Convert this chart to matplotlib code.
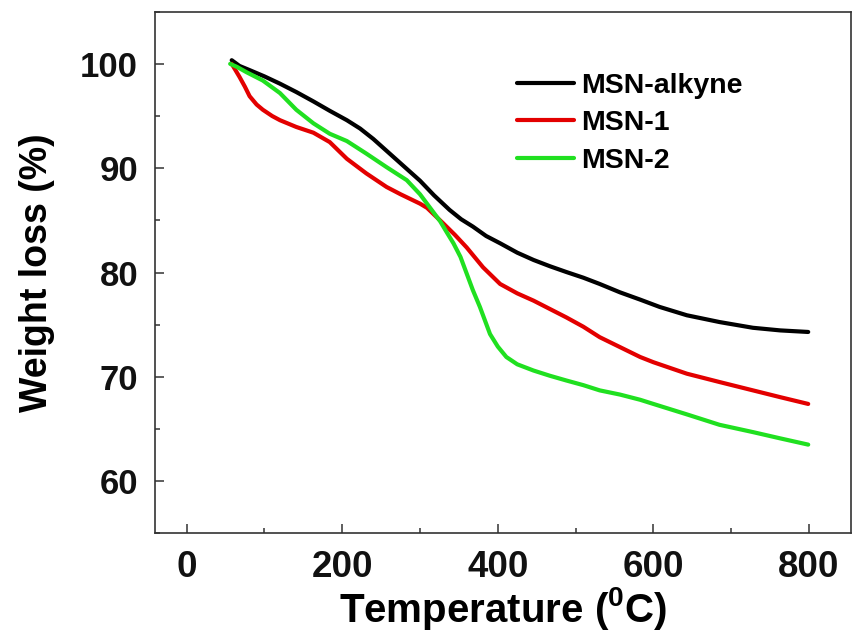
import matplotlib
matplotlib.use("Agg")
import matplotlib.pyplot as plt
from matplotlib.ticker import MultipleLocator

# ---- data ----
T_black = [58, 68, 81, 100, 120, 141, 163, 184, 206, 223, 240, 255, 270, 285, 300, 318, 338, 353, 368, 385,
           403, 425, 446, 467, 488, 510, 531, 557, 583, 608, 643, 685, 728, 763, 799]
W_black = [100.35, 99.8, 99.4, 98.8, 98.1, 97.3, 96.4, 95.5, 94.6, 93.8, 92.8, 91.8, 90.8, 89.8, 88.8, 87.4, 86.0, 85.1, 84.4, 83.5,
           82.8, 81.9, 81.2, 80.6, 80.05, 79.5, 78.9, 78.1, 77.4, 76.7, 75.9, 75.25, 74.7, 74.45, 74.3]

T_red = [58, 62, 68, 75, 81, 90, 98, 110, 120, 141, 163, 184, 206, 231, 257, 275, 300, 309, 330, 345, 360, 381,
         403, 425, 446, 467, 488, 510, 531, 557, 583, 600, 643, 685, 728, 763, 799]
W_red = [100.0, 99.5, 98.75, 97.8, 96.9, 96.1, 95.6, 95.0, 94.6, 93.95, 93.4, 92.5, 90.9, 89.5, 88.2, 87.5, 86.6, 86.2, 84.7, 83.6, 82.4, 80.5,
         78.9, 78.0, 77.3, 76.5, 75.7, 74.8, 73.8, 72.85, 71.9, 71.4, 70.3, 69.5, 68.7, 68.05, 67.4]

T_green = [56, 65, 77, 98, 120, 141, 163, 184, 206, 231, 257, 283, 300, 313, 326, 334, 343, 352, 360, 368, 377,
           384, 390, 400, 411, 425, 446, 467, 488, 510, 531, 557, 583, 600, 643, 685, 728, 763, 799]
W_green = [100.0, 99.7, 99.2, 98.4, 97.2, 95.6, 94.3, 93.3, 92.6, 91.4, 90.1, 88.85, 87.5, 86.2, 84.9, 83.9, 82.8, 81.5, 79.9, 78.3, 76.7,
           75.3, 74.1, 72.9, 71.9, 71.2, 70.6, 70.1, 69.65, 69.2, 68.7, 68.3, 67.8, 67.4, 66.4, 65.4, 64.7, 64.1, 63.5]

series_labels = ["MSN-alkyne", "MSN-1", "MSN-2"]
series_colors = ["#000000", "#e30000", "#20e020"]
x_ticks = [0, 200, 400, 600, 800]
y_ticks = [60, 70, 80, 90, 100]

plt.rcParams['font.family'] = ['Liberation Sans', 'DejaVu Sans']
plt.rcParams['font.weight'] = 'bold'

fig = plt.figure(figsize=(8.56, 6.37), dpi=100)
ax = fig.add_axes([154.7 / 856, 1 - 533.3 / 637, (851 - 154.7) / 856, (533.3 - 11.7) / 637])

for T, W, lab, c in zip([T_black, T_red, T_green], [W_black, W_red, W_green], series_labels, series_colors):
    ax.plot(T, W, color=c, lw=3.0, label=lab, solid_capstyle='round', solid_joinstyle='round')

ax.set_xlim(-41, 854)
ax.set_ylim(55, 105)
ax.set_xticks(x_ticks)
ax.set_yticks(y_ticks)
ax.xaxis.set_minor_locator(MultipleLocator(100))
ax.yaxis.set_minor_locator(MultipleLocator(5))

ax.set_xticklabels([str(v) for v in x_ticks], fontsize=26.5, fontweight='bold', color='#111111')
ax.set_yticklabels([str(v) for v in y_ticks], fontsize=25, fontweight='bold', color='#111111')

ax.tick_params(axis='both', which='major', direction='in', length=6.5, width=1.1, color='#333333',
               top=False, right=False)
ax.tick_params(axis='both', which='minor', direction='in', length=3.5, width=1.1, color='#333333',
               top=False, right=False)
ax.tick_params(axis='x', pad=12)
ax.tick_params(axis='y', pad=12)
for s in ax.spines.values():
    s.set_linewidth(1.2)
    s.set_color('#333333')

ax.set_xlabel("Temperature ($\\mathregular{^0}$C)", fontsize=29, fontweight='bold', labelpad=0)
ax.set_ylabel("Weight loss (%)", fontsize=27, fontweight='bold', labelpad=18)

leg = ax.legend(loc='upper left', bbox_to_anchor=((517 - 154.7) / 696.3, (533.3 - 73) / 521.6),
                frameon=False, fontsize=20.5, handlelength=2.0, handletextpad=0.25, labelspacing=0.40,
                borderaxespad=0, borderpad=0)
for t in leg.get_texts():
    t.set_fontweight('bold')
for l in leg.get_lines():
    l.set_linewidth(3.0)

fig.savefig("out.png", dpi=100)
